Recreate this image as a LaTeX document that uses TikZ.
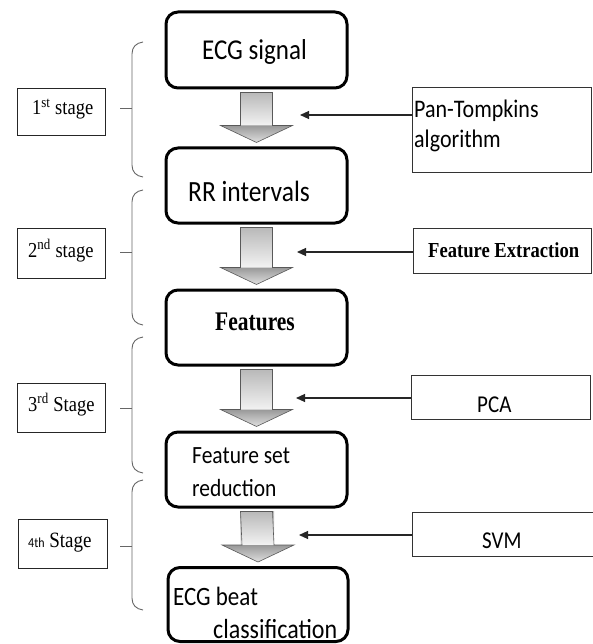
\documentclass[tikz,border=0pt]{standalone}
\usepackage{fontspec}
\usepackage{graphicx}
\setmainfont{Liberation Serif}
\newfontfamily\calfont{Carlito}
\usetikzlibrary{calc,arrows.meta}
\newcommand{\vs}[1]{\scalebox{1}[1.15]{#1}}
\tikzset{
  mainbox/.style={draw=black, line width=3pt, rounded corners=12pt, minimum width=181pt, inner sep=0pt},
  sidebox/.style={draw=black!80, line width=0.9pt, inner sep=0pt},
  stagebox/.style={draw=black!85, line width=0.9pt, inner sep=0pt, minimum width=88pt},
  txt/.style={inner sep=0pt, anchor=base west},
  thinarr/.style={draw=black!85, line width=1.1pt, -{Triangle[length=9pt,width=8pt]}},
  bracestyle/.style={draw=black!60, line width=0.9pt},
}
\newcommand{\blockarrow}[2]{%
  \shade[top color=gray!55, bottom color=gray!10]
    ($(#1.south)+(-16,3)$) rectangle ($(#2.north)+(16,-21)$);
  \shade[top color=gray!80, bottom color=gray!25]
    ($(#2.north)+(-36,-21)$) -- ($(#2.north)+(36,-21)$) -- ($(#2.north)+(0,-4)$) -- cycle;
  \draw[gray!70!black, line width=0.6pt]
    ($(#1.south)+(-16,3)$) -- ($(#1.south)+(16,3)$) -- ($(#2.north)+(16,-21)$)
    -- ($(#2.north)+(36,-21)$) -- ($(#2.north)+(0,-4)$) -- ($(#2.north)+(-36,-21)$)
    -- ($(#2.north)+(-16,-21)$) -- cycle;
}
\newcommand{\stagebrace}[3]{% top, bottom, tick y
  \draw[bracestyle] (143,#1) .. controls (136,#1+1) and (132,#1+5) .. (132,#1+12)
    -- (132,#2-12) .. controls (132,#2-5) and (136,#2-1) .. (143,#2);
  \draw[bracestyle] (120,#3) -- (132,#3);
}
\begin{document}
\begin{tikzpicture}[x=1pt,y=-1pt]
\useasboundingbox (0,0) rectangle (593,644);
\fill[white] (0,0) rectangle (593,644);

% main boxes
\node[mainbox, minimum height=76pt] (b1) at (256.5,50) {};
\node[mainbox, minimum height=75pt] (b2) at (256.5,185.5) {};
\node[mainbox, minimum height=75pt] (b3) at (256.5,327.5) {};
\node[mainbox, minimum height=75pt] (b4) at (256.5,469.5) {};
\node[mainbox, minimum height=74pt, minimum width=180pt] (b5) at (258,604.5) {};

% block arrows
\blockarrow{b1}{b2}
\blockarrow{b2}{b3}
\blockarrow{b3}{b4}
\blockarrow{b4}{b5}

% main texts
\node[txt] (t1) at (202,60) {\vs{\calfont\fontsize{25}{30}\selectfont ECG signal}};
\node[txt] (t2) at (188,201) {\vs{\calfont\fontsize{25.5}{30}\selectfont RR intervals}};
\node[txt] (t3) at (215,330) {\scalebox{1}[1.25]{\fontsize{21.5}{26}\selectfont\bfseries Features}};
\node[txt] (t4a) at (192,463) {\vs{\calfont\fontsize{21.5}{26}\selectfont Feature set}};
\node[txt] (t4b) at (192,496) {\vs{\calfont\fontsize{21.5}{26}\selectfont reduction}};
\node[txt] (t5a) at (173,605) {\vs{\calfont\fontsize{23}{28}\selectfont ECG beat}};
\node[txt] (t5b) at (213,638) {\vs{\calfont\fontsize{24}{28}\selectfont classification}};

% side boxes
\node[sidebox, minimum width=179pt, minimum height=85pt] (r1) at (501.5,129.5) {};
\node[sidebox, minimum width=178pt, minimum height=45pt] (r2) at (502,250.5) {};
\node[sidebox, minimum width=179pt, minimum height=44pt] (r3) at (500.5,397) {};
\node[sidebox, minimum width=184pt, minimum height=44pt] (r4) at (504,534) {};

\node[txt] (p1) at (414,118) {\vs{\calfont\fontsize{22}{26}\selectfont Pan-Tompkins}};
\node[txt] (p2) at (414,148) {\vs{\calfont\fontsize{22}{26}\selectfont algorithm}};
\node[txt] (p3) at (428,257) {\vs{\fontsize{18.6}{22}\selectfont\bfseries Feature Extraction}};
\node[txt] (p4) at (477,412) {\vs{\calfont\fontsize{21}{25}\selectfont PCA}};
\node[txt] (p5) at (482,548) {\vs{\calfont\fontsize{21}{25}\selectfont SVM}};

% thin arrows
\coordinate (a1) at (300,115);
\coordinate (a2) at (297,252);
\coordinate (a3) at (296,398);
\coordinate (a4) at (299,535);
\draw[thinarr] (r1.west |- a1) -- (a1);
\draw[thinarr] (r2.west |- a2) -- (a2);
\draw[thinarr] (r3.west |- a3) -- (a3);
\draw[thinarr] (r4.west |- a4) -- (a4);

% stage boxes
\node[stagebox, minimum height=47pt] (s1) at (61,111.5) {};
\node[stagebox, minimum height=50pt] (s2) at (61,253) {};
\node[stagebox, minimum height=49pt] (s3) at (61,407.5) {};
\node[stagebox, minimum height=49pt, minimum width=89pt] (s4) at (62.5,543.5) {};

\node[txt] (l1) at (32,115) {\vs{\fontsize{18.5}{22}\selectfont 1\textsuperscript{st} stage}};
\node[txt] (l2) at (28,257) {\vs{\fontsize{18.5}{22}\selectfont 2\textsuperscript{nd} stage}};
\node[txt] (l3) at (28,411) {\vs{\fontsize{18.5}{22}\selectfont 3\textsuperscript{rd} Stage}};
\node[txt] (l4) at (28,547) {\vs{{\calfont\fontsize{12}{14}\selectfont 4th}\fontsize{19}{22}\selectfont\ Stage}};

% braces
\stagebrace{42}{177}{108}
\stagebrace{190}{325}{252}
\stagebrace{337}{473}{408}
\stagebrace{480}{610}{546}
\end{tikzpicture}
\end{document}
